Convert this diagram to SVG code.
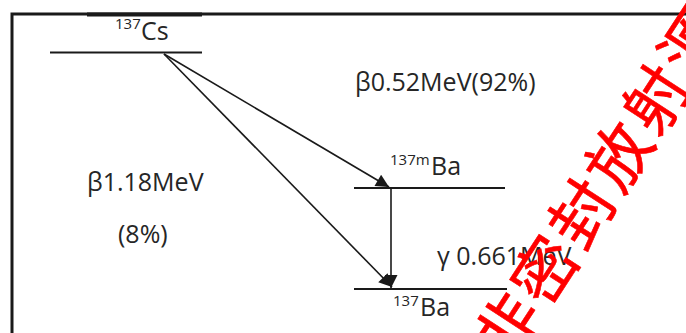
<svg xmlns="http://www.w3.org/2000/svg" width="686" height="333" viewBox="0 0 686 333">
<style>
.lvl{stroke:#1a1a1a;stroke-width:2;fill:none}
.frame{stroke:#1a1a1a;stroke-width:3;fill:none}
.lbl{font-family:"Open Sans","Liberation Sans",sans-serif;font-size:25px;fill:#262626}
.sup{font-size:15px}
.con{stroke:#1a1a1a;stroke-width:1.6;fill:none}
.wm{font-family:"Noto Sans CJK SC","Noto Sans CJK TC",sans-serif;font-size:64px;fill:#ff0000;stroke:#ff0000;stroke-width:0.6px;letter-spacing:4px}
</style>
<defs>
<marker id="ahb" viewBox="0 0 10 10" refX="10" refY="5" markerWidth="16" markerHeight="13" markerUnits="userSpaceOnUse" orient="auto">
<path d="M0,0 L10,5 L0,10 z" fill="#1a1a1a"/>
</marker>
</defs>
<rect width="686" height="333" fill="#ffffff"/>
<g id="frame">
<path class="frame" d="M12,333 V14 H686"/>
<rect x="87" y="12.5" width="115" height="4" fill="#1a1a1a"/>
</g>
<g id="cs137">
<line class="lvl" x1="50" y1="52.5" x2="202" y2="52.5"/>
<text class="lbl"><tspan class="sup" x="115" y="29">137</tspan><tspan x="141" y="40">Cs</tspan></text>
</g>
<g id="ba137m">
<line class="lvl" x1="354" y1="188" x2="505" y2="188"/>
<text class="lbl"><tspan class="sup" x="390" y="165">137m</tspan><tspan x="431" y="175">Ba</tspan></text>
</g>
<g id="ba137">
<line class="lvl" x1="354" y1="289" x2="507" y2="289"/>
<text class="lbl"><tspan class="sup" x="393" y="306">137</tspan><tspan x="420" y="316">Ba</tspan></text>
</g>
<g id="connectors">
<line class="con" x1="164" y1="54" x2="389" y2="187" marker-end="url(#ahb)"/>
<line class="con" x1="164" y1="54" x2="392" y2="287" marker-end="url(#ahb)"/>
<line class="con" x1="391" y1="188" x2="391" y2="288" marker-end="url(#ahb)"/>
</g>
<g id="labels">
<text class="lbl" x="355" y="91">β0.52MeV(92%)</text>
<text class="lbl" x="87" y="191">β1.18MeV</text>
<text class="lbl" x="118" y="243">(8%)</text>
<text class="lbl" x="437" y="265">γ 0.661MeV</text>
</g>
<g id="watermark">
<text class="wm" transform="translate(490,354) rotate(-57)" x="0" y="24">非密封放射源</text>
</g>
</svg>
